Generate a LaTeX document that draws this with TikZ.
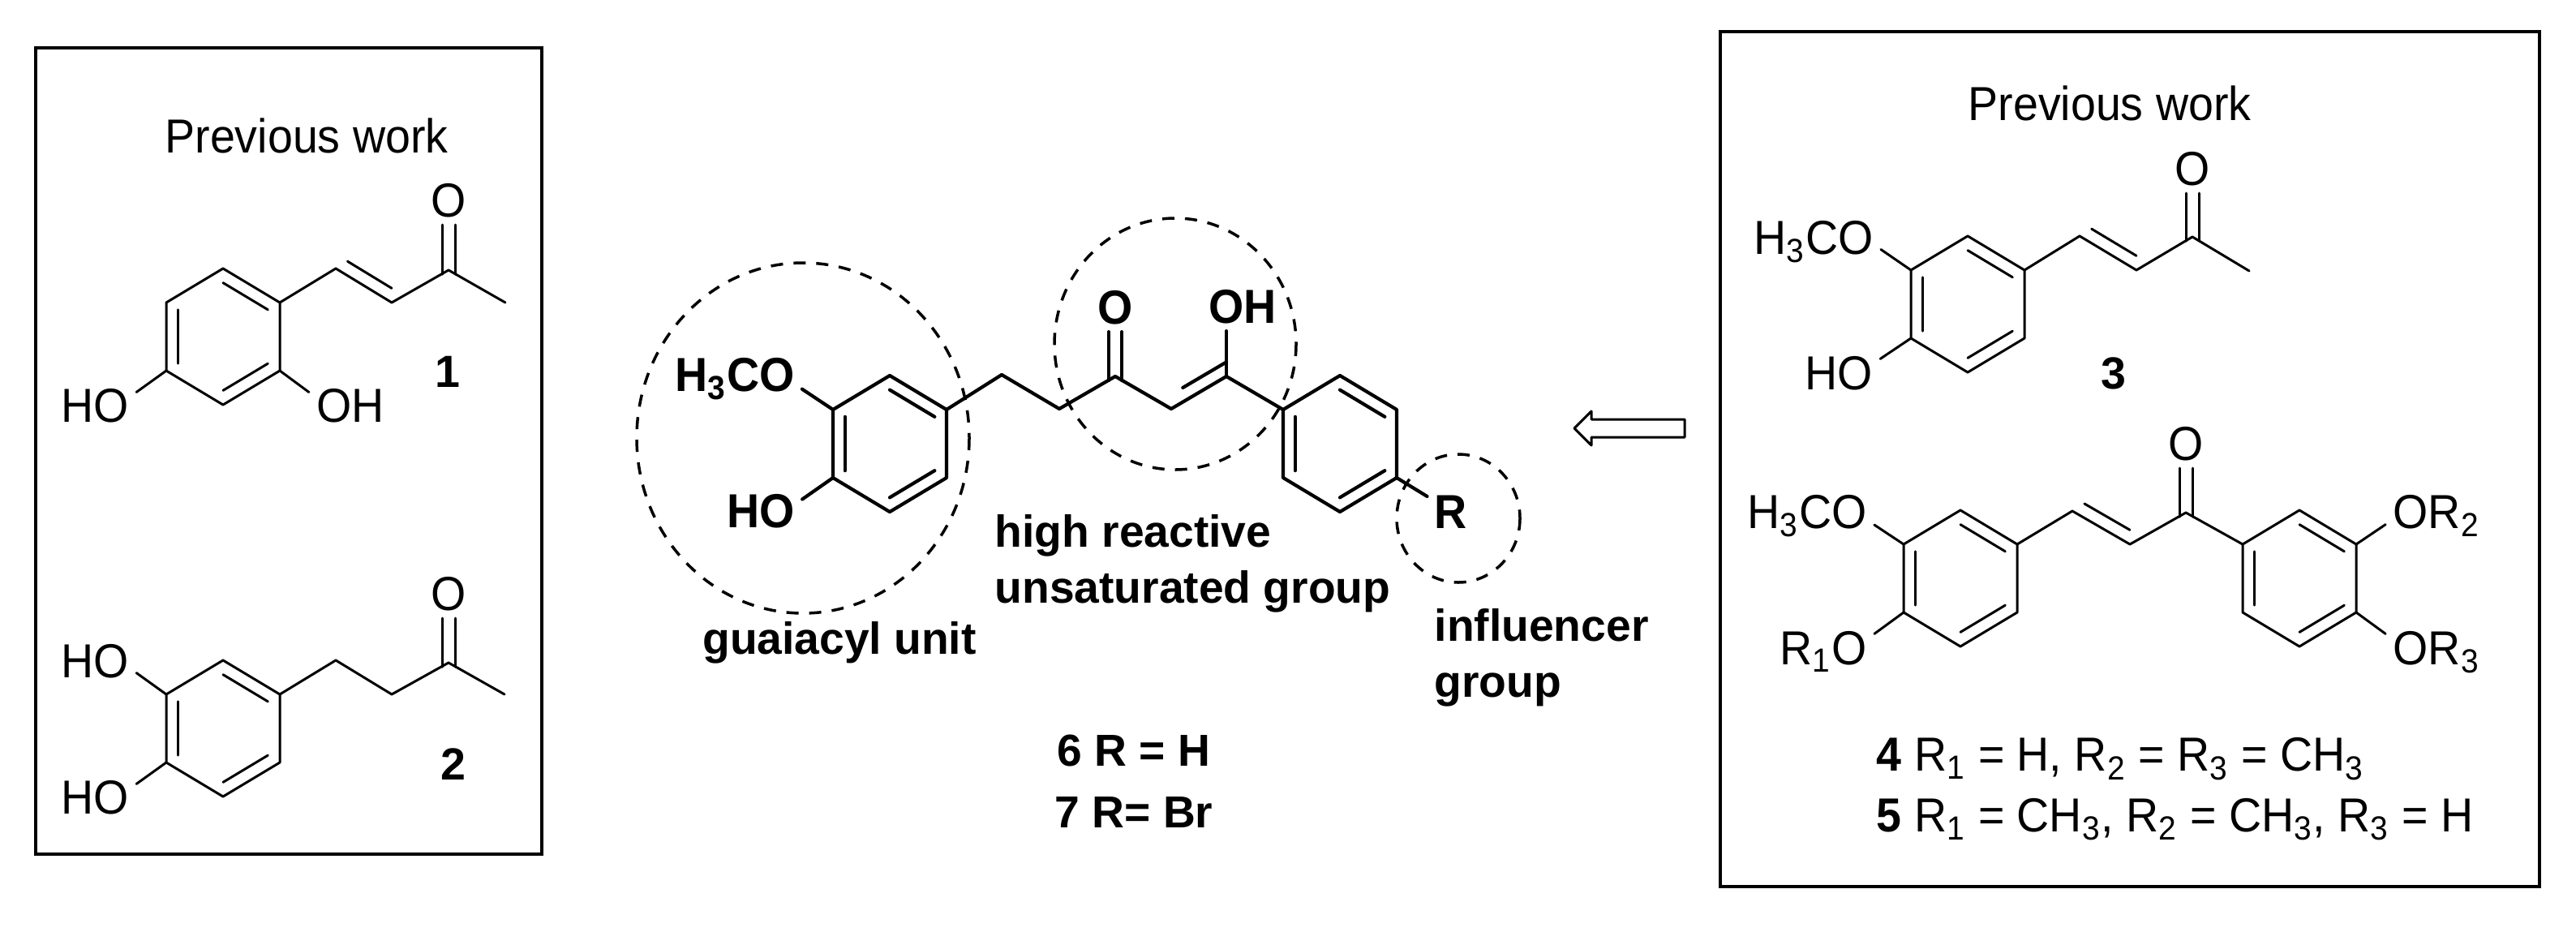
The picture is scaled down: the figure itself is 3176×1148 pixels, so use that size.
\documentclass[tikz,border=0pt]{standalone}
\usepackage{fontspec}
\setmainfont{Liberation Sans}
\usetikzlibrary{calc}
\tikzset{
    bond/.style={line width=0.03cm, line join=round, line cap=round},
    frame/.style={line width=0.035cm},
    zone/.style={line width=0.035cm, dash pattern=on 0.15cm off 0.13cm},
    atom/.style={font=\fontsize{15.8}{18}\selectfont, inner sep=2.5pt, text height=11.3pt, text depth=0pt, transform shape, yscale=1.06},
    tag/.style={font=\fontsize{15.8}{18}\selectfont\bfseries, inner sep=0pt, text height=11.3pt, text depth=0pt},
    caption/.style={font=\fontsize{15.8}{20}\selectfont, inner sep=0pt, align=left, anchor=west},
    heavy/.style={bond/.append style={line width=0.042cm},
        atom/.append style={font=\fontsize{15.8}{18}\selectfont\bfseries},
        caption/.append style={font=\fontsize{15.7}{19.7}\selectfont\bfseries}},
}
% ring of six vertices, 1 on top, then clockwise
\newcommand{\ringat}[3]{
    \coordinate (#1c) at (#2,#3);
    \coordinate (#1-1) at ($(#1c)+(0,-84)$);
    \coordinate (#1-2) at ($(#1c)+(70,-42)$);
    \coordinate (#1-3) at ($(#1c)+(70,42)$);
    \coordinate (#1-4) at ($(#1c)+(0,84)$);
    \coordinate (#1-5) at ($(#1c)+(-70,42)$);
    \coordinate (#1-6) at ($(#1c)+(-70,-42)$);
    \draw[bond] (#1-1)--(#1-2)--(#1-3)--(#1-4)--(#1-5)--(#1-6)--cycle;
    \foreach \a/\b in {1/2,3/4,5/6}
        \draw[bond] ($(#1c)!0.79!(#1-\a)$)--($(#1c)!0.79!(#1-\b)$);
}
\newcommand{\alkene}[2]{
    \coordinate (#1g) at ($(#2)+(0,-84)$);
    \draw[bond] ($(#1g)!0.79!(#1)$)--($(#1g)!0.79!(#2)$);
}
\newcommand{\carbonyl}[2]{
    \draw[bond,shorten >=-0.05cm] ([xshift=-0.08cm]#2.south)--([xshift=-0.08cm]#1);
    \draw[bond,shorten >=-0.05cm] ([xshift=0.08cm]#2.south)--([xshift=0.08cm]#1);
}
\begin{document}
\begin{tikzpicture}[x=0.01cm,y=-0.01cm]
\useasboundingbox (0,0) rectangle (3176,1148);
\draw[frame] (44,59) rectangle (668,1053);
\draw[frame] (2121,39) rectangle (3131,1093);

\node[atom] (prevA) at (378,167) {Previous work};
\node[atom] (prevB) at (2601,127) {Previous work};

% compound 1
\ringat{a}{275}{415}
\coordinate (a7) at (414,331);
\coordinate (a8) at (483,373);
\coordinate (a9) at (553,333);
\coordinate (a10) at (623,373);
\draw[bond] (a-2)--(a7)--(a8)--(a9)--(a10);
\alkene{a7}{a8}
\node[atom] (aO) at (553,246) {O};
\carbonyl{a9}{aO}
\node[atom] (aHO) at (117,499) {HO};
\node[atom] (aOH) at (432,499) {OH};
\draw[bond] (a-5)--(aHO.16);
\draw[bond] (a-3)--(aOH.164);
\node[tag] (aTag) at (552,458) {1};

% compound 2
\ringat{b}{275}{898}
\coordinate (b7) at (414,814);
\coordinate (b8) at (483,856);
\coordinate (b9) at (553,817);
\coordinate (b10) at (622,856);
\draw[bond] (b-2)--(b7)--(b8)--(b9)--(b10);
\node[atom] (bO) at (553,731) {O};
\carbonyl{b9}{bO}
\node[atom] (bHOa) at (117,814) {HO};
\node[atom] (bHOb) at (117,982) {HO};
\draw[bond] (b-6)--(bHOa.-16);
\draw[bond] (b-5)--(bHOb.16);
\node[tag] (bTag) at (559,942) {2};

% compound 6, 7
\begin{scope}[heavy]
\ringat{c}{1097}{547}
\ringat{d}{1652}{547}
\coordinate (c7) at (1235,462);
\coordinate (c8) at (1306,504);
\coordinate (c9) at (1375,464);
\coordinate (c10) at (1444,504);
\coordinate (c11) at (1512,464);
\draw[bond] (c-2)--(c7)--(c8)--(c9)--(c10)--(c11)--(d-6);
\alkene{c10}{c11}
\node[atom] (cO) at (1375,378) {O};
\carbonyl{c9}{cO}
\node[atom] (cOH) at (1532,377) {OH};
\draw[bond] (c11)--(c11 |- cOH.south);
\node[atom] (cOMe) at (906,461) {H\textsubscript{3}CO};
\node[atom] (cHO) at (938,629) {HO};
\node[atom] (cR) at (1789,630) {R};
\draw[bond] (c-6)--(cOMe.-12);
\draw[bond] (c-5)--(cHO.14);
\draw[bond] (d-3)--(cR.150);
\node[caption,anchor=center] (lblG) at (1035,792) {guaiacyl unit};
\node[caption] (lblH) at (1226,695) {high reactive\\unsaturated group};
\node[caption] (lblI) at (1768,811) {influencer\\group};
\node[caption,anchor=center,align=center] (lblR) at (1398,963) {6 R = H\\[2pt]7 R= Br};
\end{scope}
\draw[zone] (990,540) ellipse (205 and 216);
\draw[zone] (1449,424) ellipse (149 and 155);
\draw[zone] (1798,639) ellipse (76 and 79);
\draw[bond] (1941,528)--(1962,507)--(1962,517)--(2077,517)--(2077,539)--(1962,539)--(1962,549)--cycle;

% compound 3
\ringat{e}{2426}{375}
\coordinate (e7) at (2564,291);
\coordinate (e8) at (2634,333);
\coordinate (e9) at (2703,292);
\coordinate (e10) at (2773,334);
\draw[bond] (e-2)--(e7)--(e8)--(e9)--(e10);
\alkene{e7}{e8}
\node[atom] (eO) at (2703,207) {O};
\carbonyl{e9}{eO}
\node[atom] (eOMe) at (2236,292) {H\textsubscript{3}CO};
\node[atom] (eHO) at (2267,459) {HO};
\draw[bond] (e-6)--(eOMe.-10);
\draw[bond] (e-5)--(eHO.17);
\node[tag] (eTag) at (2606,460) {3};

% compound 4, 5
\ringat{f}{2417}{713}
\ringat{g}{2835}{713}
\coordinate (f7) at (2555,630);
\coordinate (f8) at (2626,671);
\coordinate (f9) at (2695,632);
\draw[bond] (f-2)--(f7)--(f8)--(f9)--(g-6);
\alkene{f7}{f8}
\node[atom] (fO) at (2695,546) {O};
\carbonyl{f9}{fO}
\node[atom] (fOMe) at (2228,630) {H\textsubscript{3}CO};
\node[atom] (fROa) at (2248,798) {R\textsubscript{1}O};
\node[atom] (fROb) at (3004,630) {OR\textsubscript{2}};
\node[atom] (fROc) at (3004,798) {OR\textsubscript{3}};
\draw[bond] (f-6)--(fOMe.-11);
\draw[bond] (f-5)--(fROa.14);
\draw[bond] (g-2)--(fROb.194);
\draw[bond] (g-3)--(fROc.166);
\node[caption,yscale=1.06,transform shape] (fList) at (2313,973) {\textbf{4} R\textsubscript{1} = H, R\textsubscript{2} = R\textsubscript{3} = CH\textsubscript{3}\\\textbf{5} R\textsubscript{1} = CH\textsubscript{3}, R\textsubscript{2} = CH\textsubscript{3}, R\textsubscript{3} = H};
\end{tikzpicture}
\end{document}
